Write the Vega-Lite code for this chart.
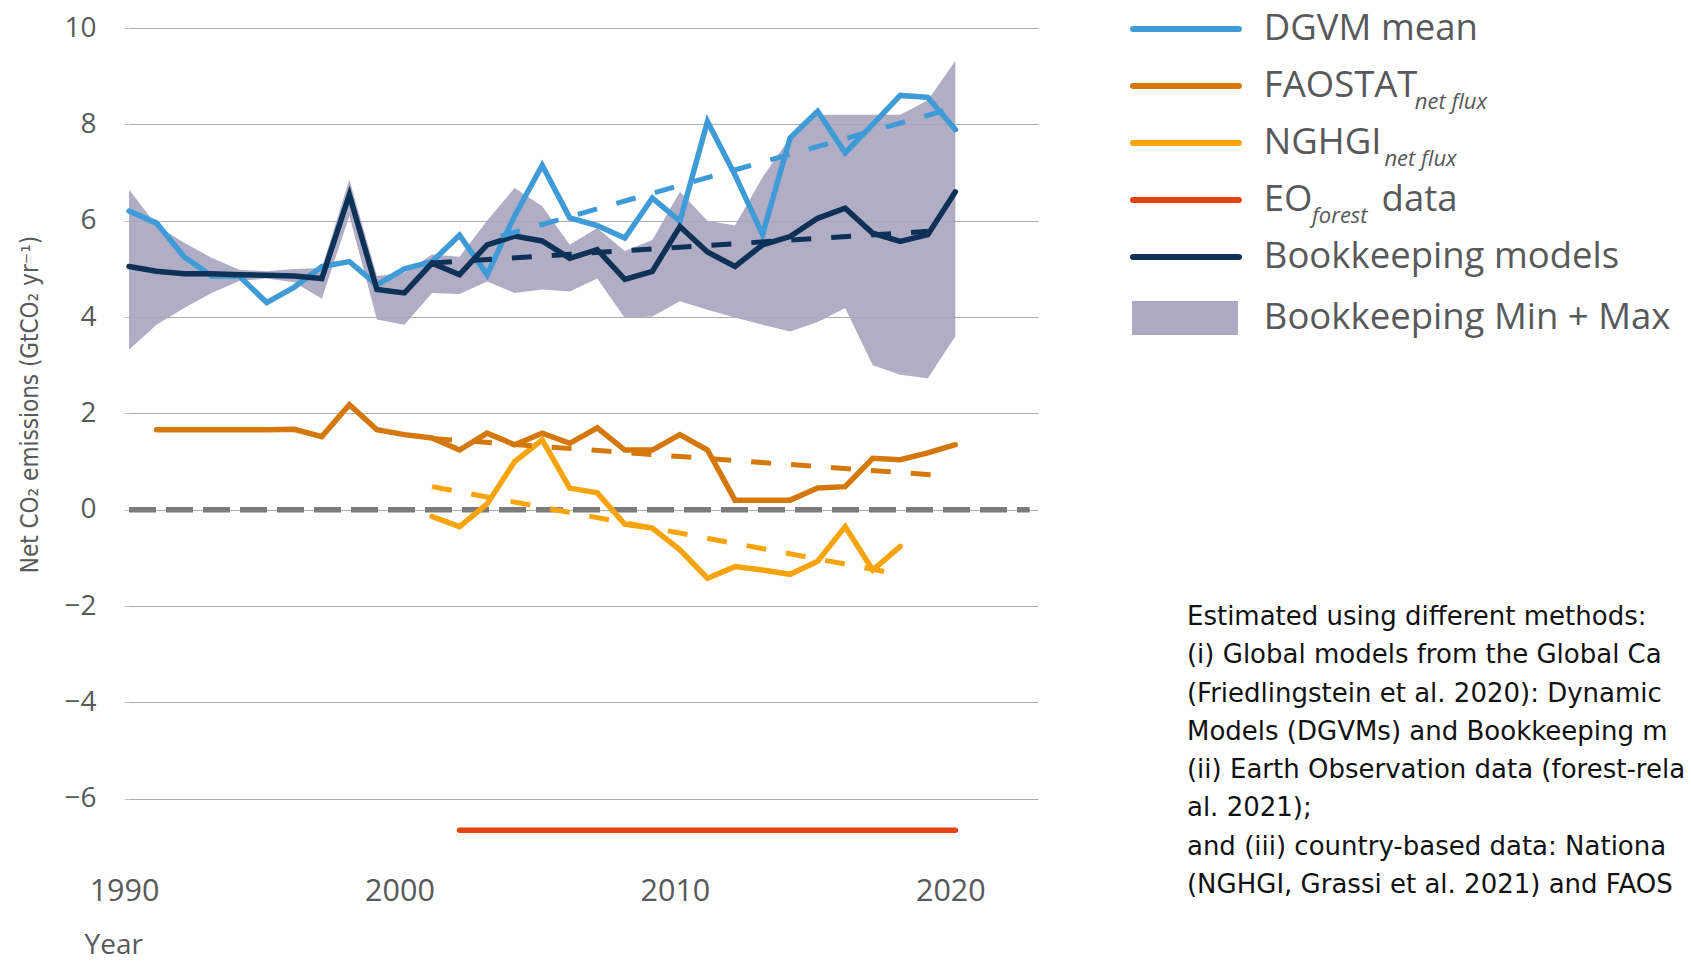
{
  "$schema": "https://vega.github.io/schema/vega-lite/v6.json",
  "background": "white",
  "padding": {"left": 18, "top": 10, "right": 0, "bottom": 3},
  "spacing": 76,
  "config": {
    "view": {"stroke": null},
    "axis": {"labelFont": "Open Sans", "titleFont": "Open Sans", "labelColor": "#58595b", "titleColor": "#58595b", "titleFontWeight": "normal"},
    "text": {"font": "Open Sans"}
  },
  "datasets": {
    "band": [
      {"year": 1990, "lo": 3.32, "hi": 6.65}, {"year": 1991, "lo": 3.84, "hi": 5.9}, {"year": 1992, "lo": 4.19, "hi": 5.54},
      {"year": 1993, "lo": 4.5, "hi": 5.23}, {"year": 1994, "lo": 4.75, "hi": 4.98}, {"year": 1995, "lo": 4.8, "hi": 4.95},
      {"year": 1996, "lo": 4.72, "hi": 5.0}, {"year": 1997, "lo": 4.38, "hi": 5.02}, {"year": 1998, "lo": 6.1, "hi": 6.85},
      {"year": 1999, "lo": 3.95, "hi": 4.85}, {"year": 2000, "lo": 3.84, "hi": 4.92}, {"year": 2001, "lo": 4.5, "hi": 5.3},
      {"year": 2002, "lo": 4.48, "hi": 5.25}, {"year": 2003, "lo": 4.74, "hi": 6.0}, {"year": 2004, "lo": 4.5, "hi": 6.68},
      {"year": 2005, "lo": 4.57, "hi": 6.3}, {"year": 2006, "lo": 4.53, "hi": 5.5}, {"year": 2007, "lo": 4.8, "hi": 5.85},
      {"year": 2008, "lo": 3.98, "hi": 5.37}, {"year": 2009, "lo": 4.01, "hi": 5.6}, {"year": 2010, "lo": 4.33, "hi": 6.6},
      {"year": 2011, "lo": 4.15, "hi": 6.0}, {"year": 2012, "lo": 3.99, "hi": 5.9}, {"year": 2013, "lo": 3.84, "hi": 6.9},
      {"year": 2014, "lo": 3.7, "hi": 7.72}, {"year": 2015, "lo": 3.9, "hi": 8.2}, {"year": 2016, "lo": 4.19, "hi": 8.2},
      {"year": 2017, "lo": 3.0, "hi": 8.2}, {"year": 2018, "lo": 2.8, "hi": 8.2}, {"year": 2019, "lo": 2.73, "hi": 8.5},
      {"year": 2020, "lo": 3.6, "hi": 9.32}
    ],
    "series": [
      {"series": "DGVM mean", "year": 1990, "value": 6.2}, {"series": "DGVM mean", "year": 1991, "value": 5.95},
      {"series": "DGVM mean", "year": 1992, "value": 5.25}, {"series": "DGVM mean", "year": 1993, "value": 4.85},
      {"series": "DGVM mean", "year": 1994, "value": 4.85}, {"series": "DGVM mean", "year": 1995, "value": 4.3},
      {"series": "DGVM mean", "year": 1996, "value": 4.62}, {"series": "DGVM mean", "year": 1997, "value": 5.05},
      {"series": "DGVM mean", "year": 1998, "value": 5.15}, {"series": "DGVM mean", "year": 1999, "value": 4.67},
      {"series": "DGVM mean", "year": 2000, "value": 5.0}, {"series": "DGVM mean", "year": 2001, "value": 5.15},
      {"series": "DGVM mean", "year": 2002, "value": 5.7}, {"series": "DGVM mean", "year": 2003, "value": 4.88},
      {"series": "DGVM mean", "year": 2004, "value": 6.1}, {"series": "DGVM mean", "year": 2005, "value": 7.15},
      {"series": "DGVM mean", "year": 2006, "value": 6.06}, {"series": "DGVM mean", "year": 2007, "value": 5.9},
      {"series": "DGVM mean", "year": 2008, "value": 5.64}, {"series": "DGVM mean", "year": 2009, "value": 6.47},
      {"series": "DGVM mean", "year": 2010, "value": 5.99}, {"series": "DGVM mean", "year": 2011, "value": 8.06},
      {"series": "DGVM mean", "year": 2012, "value": 6.95}, {"series": "DGVM mean", "year": 2013, "value": 5.71},
      {"series": "DGVM mean", "year": 2014, "value": 7.72}, {"series": "DGVM mean", "year": 2015, "value": 8.27},
      {"series": "DGVM mean", "year": 2016, "value": 7.41}, {"series": "DGVM mean", "year": 2017, "value": 8.0},
      {"series": "DGVM mean", "year": 2018, "value": 8.6}, {"series": "DGVM mean", "year": 2019, "value": 8.56},
      {"series": "DGVM mean", "year": 2020, "value": 7.89},
      {"series": "Bookkeeping models", "year": 1990, "value": 5.05}, {"series": "Bookkeeping models", "year": 1991, "value": 4.95},
      {"series": "Bookkeeping models", "year": 1992, "value": 4.9}, {"series": "Bookkeeping models", "year": 1993, "value": 4.9},
      {"series": "Bookkeeping models", "year": 1994, "value": 4.88}, {"series": "Bookkeeping models", "year": 1995, "value": 4.87},
      {"series": "Bookkeeping models", "year": 1996, "value": 4.85}, {"series": "Bookkeeping models", "year": 1997, "value": 4.8},
      {"series": "Bookkeeping models", "year": 1998, "value": 6.54}, {"series": "Bookkeeping models", "year": 1999, "value": 4.57},
      {"series": "Bookkeeping models", "year": 2000, "value": 4.5}, {"series": "Bookkeeping models", "year": 2001, "value": 5.12},
      {"series": "Bookkeeping models", "year": 2002, "value": 4.88}, {"series": "Bookkeeping models", "year": 2003, "value": 5.5},
      {"series": "Bookkeeping models", "year": 2004, "value": 5.68}, {"series": "Bookkeeping models", "year": 2005, "value": 5.58},
      {"series": "Bookkeeping models", "year": 2006, "value": 5.22}, {"series": "Bookkeeping models", "year": 2007, "value": 5.4},
      {"series": "Bookkeeping models", "year": 2008, "value": 4.78}, {"series": "Bookkeeping models", "year": 2009, "value": 4.95},
      {"series": "Bookkeeping models", "year": 2010, "value": 5.88}, {"series": "Bookkeeping models", "year": 2011, "value": 5.35},
      {"series": "Bookkeeping models", "year": 2012, "value": 5.05}, {"series": "Bookkeeping models", "year": 2013, "value": 5.5},
      {"series": "Bookkeeping models", "year": 2014, "value": 5.67}, {"series": "Bookkeeping models", "year": 2015, "value": 6.05},
      {"series": "Bookkeeping models", "year": 2016, "value": 6.26}, {"series": "Bookkeeping models", "year": 2017, "value": 5.74},
      {"series": "Bookkeeping models", "year": 2018, "value": 5.57}, {"series": "Bookkeeping models", "year": 2019, "value": 5.71},
      {"series": "Bookkeeping models", "year": 2020, "value": 6.6},
      {"series": "FAOSTAT", "year": 1991, "value": 1.66}, {"series": "FAOSTAT", "year": 1992, "value": 1.66},
      {"series": "FAOSTAT", "year": 1993, "value": 1.66}, {"series": "FAOSTAT", "year": 1994, "value": 1.66},
      {"series": "FAOSTAT", "year": 1995, "value": 1.66}, {"series": "FAOSTAT", "year": 1996, "value": 1.67},
      {"series": "FAOSTAT", "year": 1997, "value": 1.52}, {"series": "FAOSTAT", "year": 1998, "value": 2.18},
      {"series": "FAOSTAT", "year": 1999, "value": 1.66}, {"series": "FAOSTAT", "year": 2000, "value": 1.56},
      {"series": "FAOSTAT", "year": 2001, "value": 1.49}, {"series": "FAOSTAT", "year": 2002, "value": 1.24},
      {"series": "FAOSTAT", "year": 2003, "value": 1.59}, {"series": "FAOSTAT", "year": 2004, "value": 1.35},
      {"series": "FAOSTAT", "year": 2005, "value": 1.59}, {"series": "FAOSTAT", "year": 2006, "value": 1.38},
      {"series": "FAOSTAT", "year": 2007, "value": 1.7}, {"series": "FAOSTAT", "year": 2008, "value": 1.24},
      {"series": "FAOSTAT", "year": 2009, "value": 1.24}, {"series": "FAOSTAT", "year": 2010, "value": 1.56},
      {"series": "FAOSTAT", "year": 2011, "value": 1.24}, {"series": "FAOSTAT", "year": 2012, "value": 0.2},
      {"series": "FAOSTAT", "year": 2013, "value": 0.2}, {"series": "FAOSTAT", "year": 2014, "value": 0.2},
      {"series": "FAOSTAT", "year": 2015, "value": 0.45}, {"series": "FAOSTAT", "year": 2016, "value": 0.48},
      {"series": "FAOSTAT", "year": 2017, "value": 1.07}, {"series": "FAOSTAT", "year": 2018, "value": 1.04},
      {"series": "FAOSTAT", "year": 2019, "value": 1.18}, {"series": "FAOSTAT", "year": 2020, "value": 1.35},
      {"series": "NGHGI", "year": 2001, "value": -0.14}, {"series": "NGHGI", "year": 2002, "value": -0.35},
      {"series": "NGHGI", "year": 2003, "value": 0.12}, {"series": "NGHGI", "year": 2004, "value": 1.0},
      {"series": "NGHGI", "year": 2005, "value": 1.45}, {"series": "NGHGI", "year": 2006, "value": 0.45},
      {"series": "NGHGI", "year": 2007, "value": 0.35}, {"series": "NGHGI", "year": 2008, "value": -0.3},
      {"series": "NGHGI", "year": 2009, "value": -0.38}, {"series": "NGHGI", "year": 2010, "value": -0.83},
      {"series": "NGHGI", "year": 2011, "value": -1.42}, {"series": "NGHGI", "year": 2012, "value": -1.18},
      {"series": "NGHGI", "year": 2013, "value": -1.25}, {"series": "NGHGI", "year": 2014, "value": -1.34},
      {"series": "NGHGI", "year": 2015, "value": -1.07}, {"series": "NGHGI", "year": 2016, "value": -0.35},
      {"series": "NGHGI", "year": 2017, "value": -1.25}, {"series": "NGHGI", "year": 2018, "value": -0.76},
      {"series": "EO", "year": 2002, "value": -6.65}, {"series": "EO", "year": 2020, "value": -6.65}
    ],
    "trend": [
      {"series": "DGVM mean", "year": 2003.5, "value": 5.68}, {"series": "DGVM mean", "year": 2020, "value": 8.35},
      {"series": "Bookkeeping models", "year": 2001, "value": 5.12}, {"series": "Bookkeeping models", "year": 2019, "value": 5.78},
      {"series": "FAOSTAT", "year": 2001, "value": 1.48}, {"series": "FAOSTAT", "year": 2019.5, "value": 0.71},
      {"series": "NGHGI", "year": 2001, "value": 0.48}, {"series": "NGHGI", "year": 2017.6, "value": -1.3}
    ],
    "legend": [
      {"item": 1, "series": "DGVM mean", "label": "DGVM mean"},
      {"item": 2, "series": "FAOSTAT", "label": "FAOSTAT", "sub": "net flux"},
      {"item": 3, "series": "NGHGI", "label": "NGHGI", "sub": "net flux"},
      {"item": 4, "series": "EO", "label": "EO", "sub": "forest", "suffix": "data"},
      {"item": 5, "series": "Bookkeeping models", "label": "Bookkeeping models"},
      {"item": 6, "series": "Bookkeeping Min + Max", "label": "Bookkeeping Min + Max"}
    ],
    "note": [
      {"line": 1, "text": "Estimated using different methods:"},
      {"line": 2, "text": "(i) Global models from the Global Ca"},
      {"line": 3, "text": "(Friedlingstein et al. 2020): Dynamic"},
      {"line": 4, "text": "Models (DGVMs) and Bookkeeping m"},
      {"line": 5, "text": "(ii) Earth Observation data (forest-rela"},
      {"line": 6, "text": "al. 2021);"},
      {"line": 7, "text": "and (iii) country-based data: Nationa"},
      {"line": 8, "text": "(NGHGI, Grassi et al. 2021) and FAOS"}
    ]
  },
  "hconcat": [
    {
      "width": 909,
      "height": 819,
      "layer": [
        {
          "data": {"name": "band"},
          "mark": {"type": "area", "color": "#a8a4bf", "opacity": 0.9},
          "encoding": {
            "x": {"field": "year", "type": "quantitative",
                  "scale": {"domain": [1990, 2023], "nice": false, "zero": false},
                  "axis": {"values": [1990, 2000, 2010, 2020], "format": "d", "labelFontSize": 30.5, "labelPadding": 44, "labelBaseline": "middle", "labelFlush": false, "labelOffset": -5,
                           "domain": false, "ticks": false, "grid": false,
                           "title": "Year", "titleFontSize": 28, "titleX": -45, "titleY": 98, "titleAlign": "left", "titleBaseline": "middle"}},
            "y": {"field": "lo", "type": "quantitative",
                  "scale": {"domain": [-7, 10], "nice": false, "zero": false},
                  "axis": {"values": [-6, -4, -2, 0, 2, 4, 6, 8, 10], "format": "d", "labelFontSize": 28, "labelPadding": 28,
                           "domain": false, "ticks": true, "tickSize": 5, "tickColor": "#c4c4c4",
                           "grid": true, "gridColor": "#ababab", "gridWidth": 1.1,
                           "title": "Net CO₂ emissions (GtCO₂ yr⁻¹)", "titleFont": "DejaVu Sans Condensed, Roboto",
                           "titleFontSize": 24, "titleX": -99, "titleY": 376, "titleAlign": "center", "titleBaseline": "middle"}},
            "y2": {"field": "hi"}
          }
        },
        {
          "data": {"values": [{}]},
          "mark": {"type": "rule", "strokeDash": [27, 10], "strokeWidth": 5.5, "color": "#7b7b7b"},
          "encoding": {
            "x": {"datum": 1990, "type": "quantitative"},
            "x2": {"datum": 2022.7},
            "y": {"datum": 0, "type": "quantitative"}
          }
        },
        {
          "data": {"name": "series"},
          "transform": [{"filter": "datum.series === 'DGVM mean'"}],
          "mark": {"type": "line", "strokeWidth": 5.5, "strokeCap": "round"},
          "encoding": {
            "x": {"field": "year", "type": "quantitative"},
            "y": {"field": "value", "type": "quantitative"},
            "color": {"field": "series", "type": "nominal", "legend": null,
                      "scale": {"domain": ["DGVM mean", "FAOSTAT", "NGHGI", "EO", "Bookkeeping models"], "range": ["#3f9bd7", "#d4780c", "#f7a30a", "#e8430f", "#0e3257"]}}
          }
        },
        {
          "data": {"name": "series"},
          "transform": [{"filter": "datum.series === 'Bookkeeping models'"}],
          "mark": {"type": "line", "strokeWidth": 5.5, "strokeCap": "round"},
          "encoding": {
            "x": {"field": "year", "type": "quantitative"},
            "y": {"field": "value", "type": "quantitative"},
            "color": {"field": "series", "type": "nominal", "legend": null}
          }
        },
        {
          "data": {"name": "series"},
          "transform": [{"filter": "datum.series === 'NGHGI'"}],
          "mark": {"type": "line", "strokeWidth": 5.5, "strokeCap": "round"},
          "encoding": {
            "x": {"field": "year", "type": "quantitative"},
            "y": {"field": "value", "type": "quantitative"},
            "color": {"field": "series", "type": "nominal", "legend": null}
          }
        },
        {
          "data": {"name": "series"},
          "transform": [{"filter": "datum.series === 'FAOSTAT' || datum.series === 'EO'"}],
          "mark": {"type": "line", "strokeWidth": 5.5, "strokeCap": "round"},
          "encoding": {
            "x": {"field": "year", "type": "quantitative"},
            "y": {"field": "value", "type": "quantitative"},
            "color": {"field": "series", "type": "nominal", "legend": null}
          }
        },
        {
          "data": {"name": "trend"},
          "mark": {"type": "line", "strokeWidth": 5, "strokeDash": [20, 20]},
          "encoding": {
            "x": {"field": "year", "type": "quantitative"},
            "y": {"field": "value", "type": "quantitative"},
            "color": {"field": "series", "type": "nominal", "legend": null}
          }
        }
      ]
    },
    {
      "width": 553,
      "height": 880,
      "resolve": {"scale": {"y": "independent"}},
      "layer": [
        {
          "data": {"name": "legend"},
          "transform": [{"filter": "datum.item <= 5"}],
          "mark": {"type": "rule", "strokeWidth": 6, "strokeCap": "round"},
          "encoding": {
            "x": {"datum": 0.54, "type": "quantitative", "scale": {"domain": [0, 100], "nice": false, "zero": false}, "axis": null},
            "x2": {"datum": 19.7},
            "y": {"field": "item", "type": "quantitative", "scale": {"domain": [0.9825, 16.421], "reverse": true, "nice": false, "zero": false}, "axis": null},
            "color": {"field": "series", "type": "nominal", "legend": null}
          }
        },
        {
          "data": {"name": "legend"},
          "transform": [{"filter": "datum.item === 6"}],
          "mark": {"type": "rule", "strokeWidth": 34, "strokeCap": "butt", "color": "#aeaac3", "yOffset": 4},
          "encoding": {
            "x": {"datum": 0.36, "type": "quantitative", "axis": null},
            "x2": {"datum": 19.53},
            "y": {"field": "item", "type": "quantitative", "scale": {"domain": [0.9825, 16.421], "reverse": true, "nice": false, "zero": false}, "axis": null}
          }
        },
        {
          "data": {"name": "legend"},
          "transform": [{"filter": "datum.item <= 5"}],
          "mark": {"type": "text", "align": "left", "baseline": "middle", "fontSize": 36.5, "color": "#58595b"},
          "encoding": {
            "x": {"datum": 24.2, "type": "quantitative", "axis": null},
            "y": {"field": "item", "type": "quantitative", "scale": {"domain": [0.9825, 16.421], "reverse": true, "nice": false, "zero": false}, "axis": null},
            "text": {"field": "label"}
          }
        },
        {
          "data": {"name": "legend"},
          "transform": [{"filter": "datum.item === 6"}],
          "mark": {"type": "text", "align": "left", "baseline": "middle", "fontSize": 36.5, "color": "#58595b", "dy": 4},
          "encoding": {
            "x": {"datum": 24.2, "type": "quantitative", "axis": null},
            "y": {"field": "item", "type": "quantitative", "scale": {"domain": [0.9825, 16.421], "reverse": true, "nice": false, "zero": false}, "axis": null},
            "text": {"field": "label"}
          }
        },
        {
          "data": {"name": "legend"},
          "transform": [{"filter": "datum.item === 2"}],
          "mark": {"type": "text", "align": "left", "baseline": "middle", "fontSize": 22, "fontStyle": "italic", "dy": 16, "color": "#58595b"},
          "encoding": {
            "x": {"datum": 51.5, "type": "quantitative", "axis": null},
            "y": {"field": "item", "type": "quantitative", "scale": {"domain": [0.9825, 16.421], "reverse": true, "nice": false, "zero": false}, "axis": null},
            "text": {"field": "sub"}
          }
        },
        {
          "data": {"name": "legend"},
          "transform": [{"filter": "datum.item === 3"}],
          "mark": {"type": "text", "align": "left", "baseline": "middle", "fontSize": 22, "fontStyle": "italic", "dy": 16, "color": "#58595b"},
          "encoding": {
            "x": {"datum": 46.0, "type": "quantitative", "axis": null},
            "y": {"field": "item", "type": "quantitative", "scale": {"domain": [0.9825, 16.421], "reverse": true, "nice": false, "zero": false}, "axis": null},
            "text": {"field": "sub"}
          }
        },
        {
          "data": {"name": "legend"},
          "transform": [{"filter": "datum.item === 4"}],
          "mark": {"type": "text", "align": "left", "baseline": "middle", "fontSize": 22, "fontStyle": "italic", "dy": 16, "color": "#58595b"},
          "encoding": {
            "x": {"datum": 32.9, "type": "quantitative", "axis": null},
            "y": {"field": "item", "type": "quantitative", "scale": {"domain": [0.9825, 16.421], "reverse": true, "nice": false, "zero": false}, "axis": null},
            "text": {"field": "sub"}
          }
        },
        {
          "data": {"name": "legend"},
          "transform": [{"filter": "datum.item === 4"}],
          "mark": {"type": "text", "align": "left", "baseline": "middle", "fontSize": 36.5, "color": "#58595b"},
          "encoding": {
            "x": {"datum": 45.5, "type": "quantitative", "axis": null},
            "y": {"field": "item", "type": "quantitative", "scale": {"domain": [0.9825, 16.421], "reverse": true, "nice": false, "zero": false}, "axis": null},
            "text": {"field": "suffix"}
          }
        },
        {
          "data": {"name": "note"},
          "mark": {"type": "text", "align": "left", "baseline": "middle", "fontSize": 26, "font": "DejaVu Sans", "color": "#111111"},
          "encoding": {
            "x": {"datum": 10.3, "type": "quantitative", "axis": null},
            "y": {"field": "line", "type": "quantitative", "scale": {"domain": [-14.379, 8.598], "reverse": true, "nice": false, "zero": false}, "axis": null},
            "text": {"field": "text"}
          }
        }
      ]
    }
  ]
}
